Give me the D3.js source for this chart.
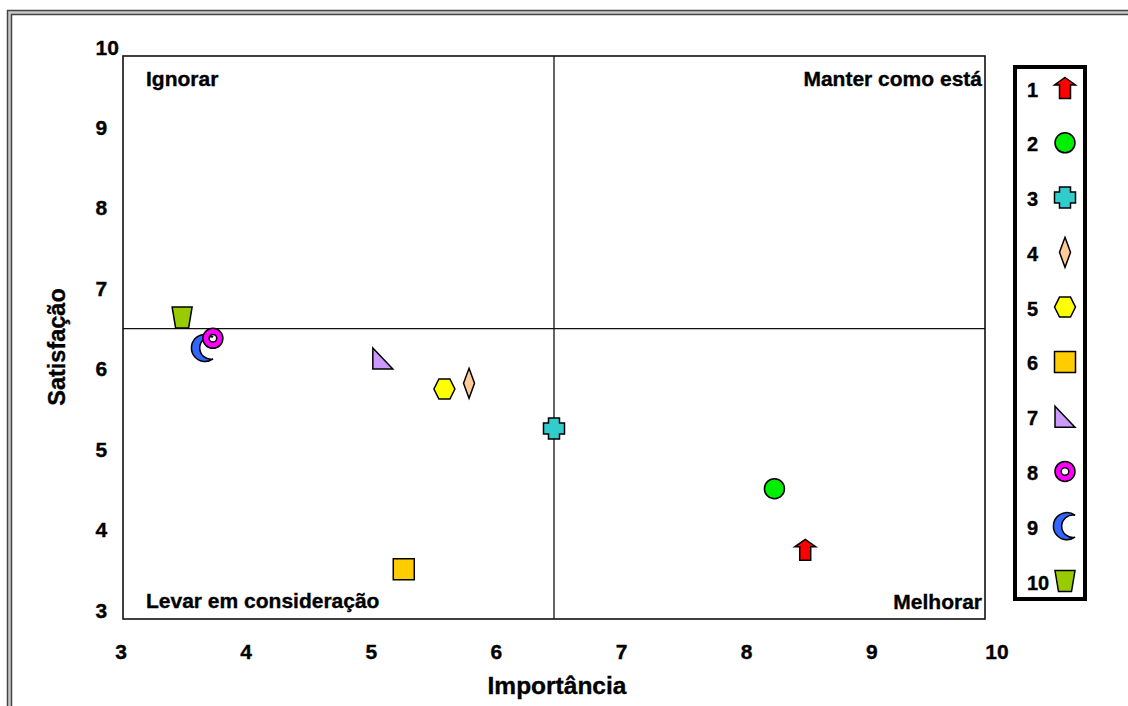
<!DOCTYPE html>
<html>
<head>
<meta charset="utf-8">
<script src="https://cdn.jsdelivr.net/npm/d3@7/dist/d3.min.js"></script>
<style>
  html, body { margin: 0; padding: 0; background: #fff; }
  svg { display: block; }
  text { font-family: "Liberation Sans", Arial, sans-serif; font-weight: bold; fill: #000; stroke: #000; stroke-width: 0.35px; }
</style>
</head>
<body>
<svg id="chart" width="1128" height="706"></svg>
<script>
// Items of the importance / satisfaction matrix
const itemIds = ["1", "2", "3", "4", "5", "6", "7", "8", "9", "10"];
const importance = [8.54, 8.29, 6.5, 5.81, 5.61, 5.28, 5.11, 3.73, 3.65, 3.48];
const satisfaction = [3.86, 4.62, 5.37, 5.93, 5.86, 3.62, 6.24, 6.49, 6.37, 6.75];
const itemShapes = ["arrow", "circle", "cross", "diamond", "hexagon", "square", "triangle", "ring", "crescent", "trapezoid"];
const itemColors = ["#ff0000", "#00ee00", "#33cccc", "#ffcc99", "#ffff00", "#ffcc00", "#cc99ff", "#ff00ff", "#3366ff", "#99cc00"];

// Axis ticks and quadrant dividers
const xTicks = [3, 4, 5, 6, 7, 8, 9, 10];
const yTicks = [3, 4, 5, 6, 7, 8, 9, 10];
const importanceCut = 6.5;
const satisfactionCut = 6.61;

// Quadrant names
const quadrantLabels = ["Ignorar", "Manter como está", "Levar em consideração", "Melhorar"];

const svg = d3.select("#chart");

// Outer double frame
svg.append("rect").attr("x", 9.5).attr("y", 12.5).attr("width", 1140).attr("height", 720)
  .attr("fill", "none").attr("stroke", "#444").attr("stroke-width", 5.5);
svg.append("rect").attr("x", 9.5).attr("y", 12.5).attr("width", 1140).attr("height", 720)
  .attr("fill", "none").attr("stroke", "#c8c8c8").attr("stroke-width", 2.5);

const plot = { left: 123, right: 985, top: 56, bottom: 619 };
const x = d3.scaleLinear().domain([3, 10]).range([plot.left, plot.right]);
const y = d3.scaleLinear().domain([3, 10]).range([plot.bottom, plot.top]);
// tick-label placement along the bottom
const xLabel = d3.scaleLinear().domain([3, 10]).range([121, 997]);

// plot frame
svg.append("rect")
  .attr("x", x(3)).attr("y", y(10))
  .attr("width", x(10) - x(3)).attr("height", y(3) - y(10))
  .attr("fill", "#fff").attr("stroke", "#111").attr("stroke-width", 1.6);

// quadrant dividers
svg.append("line")
  .attr("x1", x(importanceCut)).attr("x2", x(importanceCut))
  .attr("y1", y(10)).attr("y2", y(3))
  .attr("stroke", "#111").attr("stroke-width", 1.3);
svg.append("line")
  .attr("x1", x(3)).attr("x2", x(10))
  .attr("y1", y(satisfactionCut)).attr("y2", y(satisfactionCut))
  .attr("stroke", "#111").attr("stroke-width", 1.3);

// tick labels
svg.append("g").selectAll("text").data(yTicks).join("text")
  .attr("x", 95.5).attr("y", d => y(d) - 1.5)
  .attr("font-size", 21).attr("text-anchor", "start")
  .text(d => d);
svg.append("g").selectAll("text").data(xTicks).join("text")
  .attr("x", d => xLabel(d)).attr("y", 659)
  .attr("font-size", 21).attr("text-anchor", "middle")
  .text(d => d);

// axis titles
svg.append("text").attr("x", 557).attr("y", 694)
  .attr("font-size", 24.5).attr("text-anchor", "middle").text("Importância");
svg.append("text").attr("transform", "translate(65,347) rotate(-90)")
  .attr("font-size", 23.5).attr("text-anchor", "middle").text("Satisfação");

// quadrant names
const qPos = [
  { x: x(3) + 23, y: y(10) + 30, anchor: "start" },
  { x: x(10) - 3, y: y(10) + 30, anchor: "end" },
  { x: x(3) + 23, y: y(3) - 11, anchor: "start" },
  { x: x(10) - 3, y: y(3) - 10, anchor: "end" }
];
svg.append("g").selectAll("text").data(quadrantLabels).join("text")
  .attr("x", (d, i) => qPos[i].x).attr("y", (d, i) => qPos[i].y)
  .attr("text-anchor", (d, i) => qPos[i].anchor)
  .attr("font-size", 21).text(d => d);

// marker outlines, centred on the origin
function shapePath(kind) {
  switch (kind) {
    case "arrow":
      return "M0,-10.5 L10.5,-3 L5.5,-3 L5.5,10.5 L-5.5,10.5 L-5.5,-3 L-10.5,-3 Z";
    case "circle":
      return "M10,0 A10,10 0 1 1 -10,0 A10,10 0 1 1 10,0 Z";
    case "cross":
      return "M-5.5,-10.5 H5.5 V-5.5 H10.5 V5.5 H5.5 V10.5 H-5.5 V5.5 H-10.5 V-5.5 H-5.5 Z";
    case "diamond":
      return "M0,-15 L5.5,0 L0,15 L-5.5,0 Z";
    case "hexagon":
      return "M-10.5,0 L-5.5,-10 L5.5,-10 L10.5,0 L5.5,10 L-5.5,10 Z";
    case "square":
      return "M-10.5,-10.5 H10.5 V10.5 H-10.5 Z";
    case "triangle":
      return "M-10,-10.5 L10,10.5 L-10,10.5 Z";
    case "ring":
      return "M10,0 A10,10 0 1 1 -10,0 A10,10 0 1 1 10,0 Z M3.8,0 A3.8,3.8 0 1 0 -3.8,0 A3.8,3.8 0 1 0 3.8,0 Z";
    case "crescent":
      return "M10,-11 A13.6,13.6 0 1 0 10,11 A11.2,11.2 0 1 1 10,-11 Z";
    case "trapezoid":
      return "M-10,-10.5 L10,-10.5 L6.5,10.5 L-6.5,10.5 Z";
  }
}

const items = itemIds.map((id, i) => ({
  id, imp: importance[i], sat: satisfaction[i], shape: itemShapes[i], color: itemColors[i]
}));

// plotted items (drawn last-first so item 8 sits over item 9)
svg.append("g").selectAll("path").data(items.slice().reverse()).join("path")
  .attr("transform", d => `translate(${x(d.imp)},${y(d.sat)})`)
  .attr("d", d => shapePath(d.shape))
  .attr("fill", d => d.color)
  .attr("fill-rule", "evenodd")
  .attr("stroke", "#000").attr("stroke-width", 1.5).attr("stroke-linejoin", "miter");

// legend
const legend = svg.append("g");
legend.append("rect").attr("x", 1015).attr("y", 67).attr("width", 70).attr("height", 532)
  .attr("fill", "#fff").attr("stroke", "#000").attr("stroke-width", 4);
const legendY = d3.scalePoint().domain(itemIds).range([89, 582]);
const rows = legend.selectAll("g.row").data(items).join("g").attr("class", "row");
rows.append("text")
  .attr("x", 1027).attr("y", d => legendY(d.id) + 7.5)
  .attr("font-size", 20).text(d => d.id);
rows.append("path")
  .attr("transform", d => `translate(1065,${legendY(d.id) - 1})`)
  .attr("d", d => shapePath(d.shape))
  .attr("fill", d => d.color)
  .attr("fill-rule", "evenodd")
  .attr("stroke", "#000").attr("stroke-width", 1.5);
</script>
</body>
</html>
